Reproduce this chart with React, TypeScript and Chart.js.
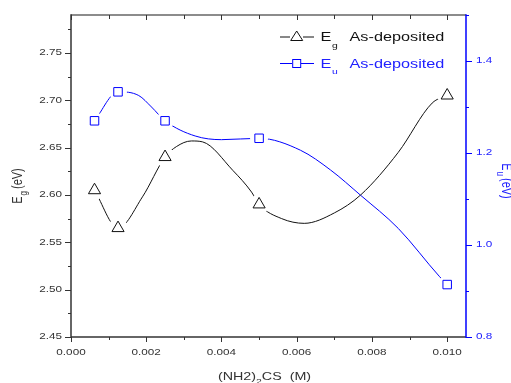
import React, { useEffect, useRef } from "react";
import { Chart, registerables } from "chart.js";

Chart.register(...registerables);

// ---- data ----
const concentration = [0.000625, 0.00125, 0.0025, 0.005, 0.01];
const egValues = [2.605, 2.565, 2.64, 2.59, 2.705];
const euValues = [1.27, 1.333, 1.27, 1.232, 0.914];

// smoothed curves as traced on the reference
const egCurveX = [0.000625, 0.00125, 0.0019, 0.0025, 0.0028, 0.0032, 0.0035, 0.0043, 0.0048, 0.005, 0.0056, 0.0062, 0.007, 0.0077, 0.0087, 0.0096, 0.01];
const egCurveY = [2.605, 2.565, 2.598, 2.64, 2.651, 2.657, 2.656, 2.626, 2.603, 2.59, 2.575, 2.57, 2.581, 2.6, 2.645, 2.697, 2.705];
const euCurveX = [0.000625, 0.00125, 0.0018, 0.00214, 0.0025, 0.0033, 0.004, 0.005, 0.0061, 0.0069, 0.0077, 0.0087, 0.0098, 0.01];
const euCurveY = [1.27, 1.333, 1.325, 1.3, 1.27, 1.237, 1.229, 1.232, 1.206, 1.163, 1.108, 1.036, 0.931, 0.914];

// axes
const xTickValues = [0, 0.002, 0.004, 0.006, 0.008, 0.01];
const xTickLabels = ["0.000", "0.002", "0.004", "0.006", "0.008", "0.010"];
const xMinorTicks = [0.001, 0.003, 0.005, 0.007, 0.009];
const egTickValues = [2.45, 2.5, 2.55, 2.6, 2.65, 2.7, 2.75];
const egTickLabels = ["2.45", "2.50", "2.55", "2.60", "2.65", "2.70", "2.75"];
const egMinorTicks = [2.475, 2.525, 2.575, 2.625, 2.675, 2.725, 2.775];
const euTickValues = [0.8, 1.0, 1.2, 1.4];
const euTickLabels = ["0.8", "1.0", "1.2", "1.4"];
const euMinorTicks = [0.9, 1.1, 1.3, 1.5];

const legendName = "As-deposited";
const FONT = "'Liberation Sans', Arial, sans-serif";
const SX = 1.3;
const BLACK = "#111111";
const BLUE = "#0000ff";
const TEXT_GRAY = "#333333";
const TEXT_BLUE = "#2020ff";

type Run = { text: string; size: number; dy?: number; gap?: number };

function drawRuns(ctx: CanvasRenderingContext2D, runs: Run[], x: number, y: number, align: string, color: string, rot = 0) {
  ctx.save();
  ctx.translate(x, y);
  ctx.scale(SX, 1);
  if (rot) ctx.rotate(rot);
  ctx.fillStyle = color;
  ctx.textBaseline = "middle";
  ctx.textAlign = "left";
  let total = 0;
  const widths = runs.map((r) => {
    ctx.font = `${r.size}px ${FONT}`;
    const w = ctx.measureText(r.text).width;
    total += w + (r.gap || 0);
    return w;
  });
  let cx = align === "center" ? -total / 2 : align === "right" ? -total : 0;
  runs.forEach((r, i) => {
    ctx.font = `${r.size}px ${FONT}`;
    ctx.fillText(r.text, cx, r.dy || 0);
    cx += widths[i] + (r.gap || 0);
  });
  ctx.restore();
}

function line(ctx: CanvasRenderingContext2D, x1: number, y1: number, x2: number, y2: number) {
  ctx.beginPath();
  ctx.moveTo(x1, y1);
  ctx.lineTo(x2, y2);
  ctx.stroke();
}

const decorPlugin = {
  id: "decor",
  afterDraw(chart: any) {
    const ctx: CanvasRenderingContext2D = chart.ctx;
    const { left, right, top, bottom } = chart.chartArea;
    const xs = chart.scales.x;
    const ys = chart.scales.y;
    const ys1 = chart.scales.y1;
    ctx.save();
    ctx.lineCap = "butt";

    // frame
    ctx.lineWidth = 1.5;
    ctx.strokeStyle = "#666666";
    line(ctx, left, top, right, top);
    ctx.strokeStyle = "#333333";
    line(ctx, left, top - 0.75, left, bottom + 0.75);
    line(ctx, left, bottom, right, bottom);
    ctx.strokeStyle = BLUE;
    line(ctx, right, top - 0.75, right, bottom + 0.75);

    // x ticks (bottom outward, top inward)
    ctx.lineWidth = 1;
    ctx.strokeStyle = "#333333";
    xTickValues.forEach((v) => {
      const px = Math.round(xs.getPixelForValue(v)) + 0.5;
      line(ctx, px, bottom, px, bottom + 5);
      line(ctx, px, top, px, top + 5);
    });
    xMinorTicks.forEach((v) => {
      const px = Math.round(xs.getPixelForValue(v)) + 0.5;
      line(ctx, px, bottom, px, bottom + 3);
      line(ctx, px, top, px, top + 4);
    });
    // left ticks
    egTickValues.forEach((v) => {
      const py = Math.round(ys.getPixelForValue(v)) + 0.5;
      line(ctx, left - 6, py, left, py);
    });
    egMinorTicks.forEach((v) => {
      const py = Math.round(ys.getPixelForValue(v)) + 0.5;
      line(ctx, left - 3, py, left, py);
    });
    // right ticks
    ctx.strokeStyle = BLUE;
    euTickValues.forEach((v) => {
      const py = Math.round(ys1.getPixelForValue(v)) + 0.5;
      line(ctx, right, py, right + 6, py);
    });
    euMinorTicks.forEach((v) => {
      const py = Math.round(ys1.getPixelForValue(v)) + 0.5;
      line(ctx, right, py, right + 3, py);
    });

    // tick labels
    xTickValues.forEach((v, i) => {
      drawRuns(ctx, [{ text: xTickLabels[i], size: 9 }], xs.getPixelForValue(v), bottom + 16, "center", TEXT_GRAY);
    });
    egTickValues.forEach((v, i) => {
      drawRuns(ctx, [{ text: egTickLabels[i], size: 9 }], left - 9, ys.getPixelForValue(v), "right", TEXT_GRAY);
    });
    euTickValues.forEach((v, i) => {
      drawRuns(ctx, [{ text: euTickLabels[i], size: 9 }], right + 10, ys1.getPixelForValue(v), "left", TEXT_BLUE);
    });

    // axis titles
    drawRuns(
      ctx,
      [
        { text: "(NH2)", size: 11 },
        { text: "2", size: 8, dy: 5 },
        { text: "CS  (M)", size: 11 },
      ],
      (left + right) / 2 - 4,
      bottom + 40,
      "center",
      TEXT_GRAY
    );
    drawRuns(
      ctx,
      [
        { text: "E", size: 11, gap: 1 },
        { text: "g", size: 8, dy: 5, gap: 2 },
        { text: "(eV)", size: 11 },
      ],
      18,
      (top + bottom) / 2 + 10,
      "center",
      TEXT_GRAY,
      -Math.PI / 2
    );
    drawRuns(
      ctx,
      [
        { text: "E", size: 11, gap: 1 },
        { text: "u", size: 8, dy: 5, gap: 2 },
        { text: "(eV)", size: 11 },
      ],
      506,
      (top + bottom) / 2 + 5,
      "center",
      TEXT_BLUE,
      Math.PI / 2
    );

    // legend
    const ly1 = 37;
    const ly2 = 63.5;
    ctx.lineWidth = 1;
    ctx.strokeStyle = BLACK;
    line(ctx, 280, ly1, 290, ly1);
    line(ctx, 303, ly1, 314, ly1);
    ctx.beginPath();
    ctx.moveTo(296.7, ly1 - 6);
    ctx.lineTo(302.7, ly1 + 3.5);
    ctx.lineTo(290.7, ly1 + 3.5);
    ctx.closePath();
    ctx.stroke();
    ctx.strokeStyle = BLUE;
    line(ctx, 280, ly2, 292, ly2);
    line(ctx, 301, ly2, 314, ly2);
    ctx.strokeRect(292.7, ly2 - 4, 8, 8);

    drawRuns(ctx, [{ text: "E", size: 12.5 }], 320.5, ly1 + 1, "left", BLACK);
    drawRuns(ctx, [{ text: "g", size: 8 }], 332, ly1 + 9, "left", BLACK);
    drawRuns(ctx, [{ text: legendName, size: 12.5 }], 349.5, ly1 + 1, "left", BLACK);
    drawRuns(ctx, [{ text: "E", size: 12.5 }], 320.5, ly2 + 1, "left", TEXT_BLUE);
    drawRuns(ctx, [{ text: "u", size: 8 }], 332, ly2 + 8, "left", TEXT_BLUE);
    drawRuns(ctx, [{ text: legendName, size: 12.5 }], 349.5, ly2 + 1, "left", TEXT_BLUE);

    ctx.restore();
  },
};

export default function App() {
  const canvasRef = useRef<HTMLCanvasElement | null>(null);

  useEffect(() => {
    const canvas = canvasRef.current;
    if (!canvas) return;
    const toXY = (xs: number[], ys: number[]) => xs.map((x, i) => ({ x, y: ys[i] }));

    const chart = new Chart(canvas, {
      type: "line",
      data: {
        datasets: [
          {
            label: "Eg curve",
            data: toXY(egCurveX, egCurveY),
            yAxisID: "y",
            borderColor: BLACK,
            borderWidth: 1,
            pointRadius: 0,
            cubicInterpolationMode: "monotone",
            fill: false,
            order: 5,
          },
          {
            label: "Eu curve",
            data: toXY(euCurveX, euCurveY),
            yAxisID: "y1",
            borderColor: BLUE,
            borderWidth: 1,
            pointRadius: 0,
            cubicInterpolationMode: "monotone",
            fill: false,
            order: 5,
          },
          {
            label: "Eg gap",
            data: toXY(concentration, egValues),
            yAxisID: "y",
            showLine: false,
            pointStyle: "circle",
            pointRadius: 10,
            pointBackgroundColor: "#ffffff",
            pointBorderColor: "#ffffff",
            pointBorderWidth: 0,
            order: 3,
          },
          {
            label: "Eu gap",
            data: toXY(concentration, euValues),
            yAxisID: "y1",
            showLine: false,
            pointStyle: "circle",
            pointRadius: 9,
            pointBackgroundColor: "#ffffff",
            pointBorderColor: "#ffffff",
            pointBorderWidth: 0,
            order: 3,
          },
          {
            label: "Eg As-deposited",
            data: toXY(concentration, egValues),
            yAxisID: "y",
            showLine: false,
            pointStyle: "triangle",
            pointRadius: 7,
            pointBackgroundColor: "#ffffff",
            pointBorderColor: BLACK,
            pointBorderWidth: 1,
            order: 1,
          },
          {
            label: "Eu As-deposited",
            data: toXY(concentration, euValues),
            yAxisID: "y1",
            showLine: false,
            pointStyle: "rect",
            pointRadius: 6,
            pointBackgroundColor: "#ffffff",
            pointBorderColor: BLUE,
            pointBorderWidth: 1,
            order: 1,
          },
        ],
      },
      options: {
        animation: false,
        responsive: false,
        devicePixelRatio: 1,
        layout: { padding: { left: 71, right: 45, top: 15, bottom: 46 } },
        plugins: { legend: { display: false }, tooltip: { enabled: false } },
        events: [],
        scales: {
          x: { type: "linear", min: 0, max: 0.0105, display: false },
          y: { type: "linear", min: 2.45, max: 2.79, display: false },
          y1: { type: "linear", position: "right", min: 0.8, max: 1.5, display: false },
        },
      },
      plugins: [decorPlugin],
    } as any);

    return () => chart.destroy();
  }, []);

  return (
    <div style={{ position: "absolute", left: 0, top: 0, width: 511, height: 383, background: "#ffffff" }}>
      <canvas ref={canvasRef} width={511} height={383} style={{ display: "block" }} />
    </div>
  );
}
